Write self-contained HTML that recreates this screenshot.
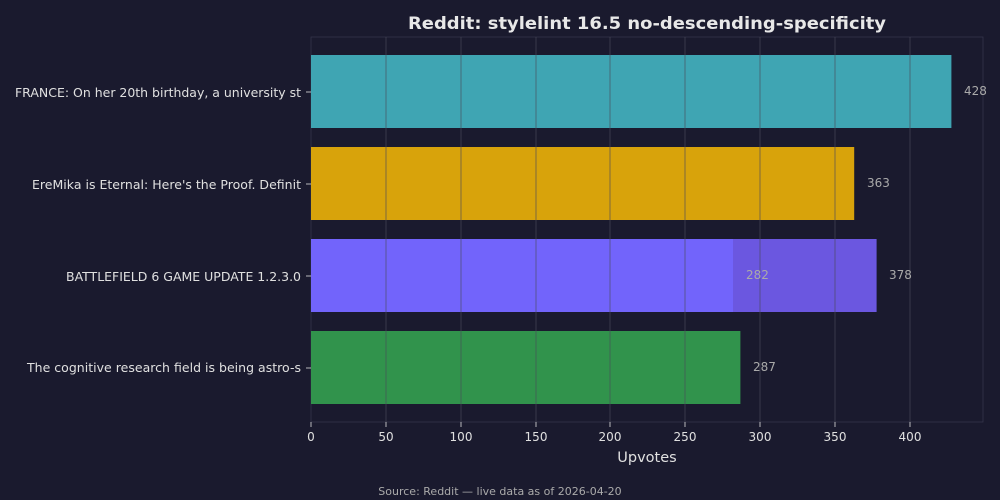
<!DOCTYPE html><html><head><style>body{margin:0;background:#1a1a2e}svg{display:block}text{font-family:"DejaVu Sans","Liberation Sans",sans-serif}</style></head><body>
<svg width="1000" height="500" viewBox="0 0 1000 500">
<rect width="1000" height="500" fill="#1a1a2e"/>
<text x="408" y="29" fill="#e8e8e8" font-size="17" font-weight="bold" textLength="478" lengthAdjust="spacingAndGlyphs">Reddit: stylelint 16.5 no-descending-specificity</text>
<rect x="311" y="37" width="672" height="385" fill="none" stroke="#35354a" stroke-width="0.8"/>
<rect x="311" y="55" width="640.4" height="73" fill="#3fa5b3"/>
<rect x="311" y="147" width="543.2" height="73" fill="#d8a30b"/>
<rect x="311" y="239" width="565.6" height="73" fill="#6b57e0"/>
<rect x="311" y="239" width="422" height="73" fill="#7264fb"/>
<rect x="311" y="331" width="429.4" height="73" fill="#31934c"/>
<g stroke="#4a4a5a" stroke-opacity="0.8" stroke-width="0.8">
<line x1="386" y1="37" x2="386" y2="422"/><line x1="461" y1="37" x2="461" y2="422"/><line x1="536" y1="37" x2="536" y2="422"/><line x1="610" y1="37" x2="610" y2="422"/><line x1="685" y1="37" x2="685" y2="422"/><line x1="760" y1="37" x2="760" y2="422"/><line x1="835" y1="37" x2="835" y2="422"/><line x1="910" y1="37" x2="910" y2="422"/>
</g>
<g fill="#aaaaaa" font-size="12">
<text x="964" y="95">428</text><text x="867" y="187">363</text><text x="889" y="279">378</text><text x="746" y="279">282</text><text x="753" y="371">287</text>
</g>
<g fill="#e0e0e0" font-size="12.5" lengthAdjust="spacingAndGlyphs">
<text x="15" y="97" textLength="286">FRANCE: On her 20th birthday, a university st</text>
<text x="32" y="189" textLength="269">EreMika is Eternal: Here's the Proof. Definit</text>
<text x="66" y="281" textLength="235">BATTLEFIELD 6 GAME UPDATE 1.2.3.0</text>
<text x="27" y="372" textLength="274">The cognitive research field is being astro-s</text>
</g>
<g stroke="#e0e0e0" stroke-width="0.8"><line x1="306" y1="92" x2="311" y2="92"/><line x1="306" y1="184" x2="311" y2="184"/><line x1="306" y1="276" x2="311" y2="276"/><line x1="306" y1="368" x2="311" y2="368"/>
<line x1="311" y1="422" x2="311" y2="427"/><line x1="386" y1="422" x2="386" y2="427"/><line x1="461" y1="422" x2="461" y2="427"/><line x1="536" y1="422" x2="536" y2="427"/><line x1="610" y1="422" x2="610" y2="427"/><line x1="685" y1="422" x2="685" y2="427"/><line x1="760" y1="422" x2="760" y2="427"/><line x1="835" y1="422" x2="835" y2="427"/><line x1="910" y1="422" x2="910" y2="427"/></g>
<g fill="#e0e0e0" font-size="12" text-anchor="middle">
<text x="311" y="441">0</text><text x="386" y="441">50</text><text x="461" y="441">100</text><text x="536" y="441">150</text><text x="610" y="441">200</text><text x="685" y="441">250</text><text x="760" y="441">300</text><text x="835" y="441">350</text><text x="910" y="441">400</text>
</g>
<text x="647" y="462" fill="#e0e0e0" font-size="14.5" text-anchor="middle">Upvotes</text>
<text x="500" y="495" fill="#aaaaaa" font-size="11" text-anchor="middle">Source: Reddit — live data as of 2026-04-20</text>
</svg></body></html>
